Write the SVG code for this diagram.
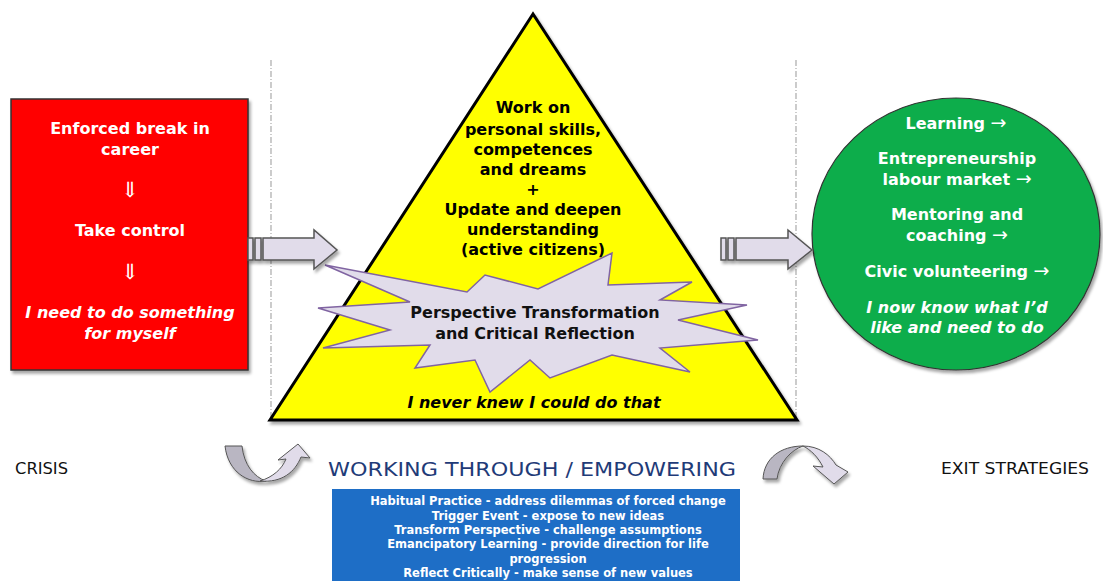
<svg xmlns="http://www.w3.org/2000/svg" width="1103" height="581" viewBox="0 0 1103 581">
<style>
text{font-family:"DejaVu Sans","Liberation Sans",sans-serif;text-anchor:middle}
.w{fill:#fff;font-weight:bold;font-size:16px}
.k{fill:#000;font-weight:bold;font-size:16px}
.it{font-style:italic}
.lab{fill:#111;font-size:16px}
.bl{fill:#fff;font-weight:bold;font-size:11.5px}
.dn{fill:#fff;font-size:21px;font-weight:normal;font-family:"Liberation Serif","DejaVu Serif",serif}
.ra{font-family:"DejaVu Sans",sans-serif;font-weight:normal;font-size:19px}
.arr{fill:#e1dcea;stroke:#555;stroke-width:1.5}
.dash{stroke:#aaa;stroke-width:1.2;stroke-dasharray:6 2 1 2;fill:none}
</style>
<defs>
<filter id="sh" x="-10%" y="-10%" width="130%" height="130%">
<feDropShadow dx="2" dy="3" stdDeviation="1.5" flood-color="#000" flood-opacity="0.35"/>
</filter>
</defs>
<rect width="1103" height="581" fill="#fff"/>
<g id="guides">
<line class="dash" x1="271" y1="60" x2="271" y2="420"/>
<line class="dash" x1="796" y1="60" x2="796" y2="420"/>
</g>
<g id="crisis-box">
<rect x="11" y="99" width="237" height="271" fill="#ff0000" stroke="#333" stroke-width="1.5" filter="url(#sh)"/>
<text class="w" x="130" y="134">Enforced break in</text>
<text class="w" x="130" y="155">career</text>
<text class="dn" x="130" y="197">⇓</text>
<text class="w" x="130" y="236">Take control</text>
<text class="dn" x="130" y="279">⇓</text>
<text class="w it" x="130" y="318">I need to do something</text>
<text class="w it" x="130" y="339">for myself</text>
</g>
<g id="triangle">
<polygon points="533,14 270,420 797,420" fill="#ffff00" stroke="#000" stroke-width="3" stroke-linejoin="miter" filter="url(#sh)"/>
<text class="k" x="533" y="113">Work on</text>
<text class="k" x="533" y="135">personal skills,</text>
<text class="k" x="533" y="155">competences</text>
<text class="k" x="533" y="175">and dreams</text>
<text class="k" x="533" y="195">+</text>
<text class="k" x="533" y="215">Update and deepen</text>
<text class="k" x="533" y="235">understanding</text>
<text class="k" x="533" y="255">(active citizens)</text>
<text class="k it" x="534" y="408">I never knew I could do that</text>
</g>
<g id="starburst">
<polygon points="325,265 467,292 485,275 538,289 612,253 608,285 692,282 660,300 747,305 678,320 758,340 660,348 690,372 612,355 550,378 530,360 490,392 475,360 415,368 430,345 323,348 390,330 318,308 410,302" fill="#e1dcea" stroke="#8064a2" stroke-width="1.5" stroke-linejoin="miter"/>
<text class="k" x="535" y="318" style="fill:#111">Perspective Transformation</text>
<text class="k" x="535" y="339" style="fill:#111">and Critical Reflection</text>
</g>
<g id="exit-circle">
<ellipse cx="956" cy="234" rx="144" ry="136" fill="#11ad4b" stroke="#333" stroke-width="1.2" filter="url(#sh)"/>
<text class="w" x="956" y="129">Learning <tspan class="ra">→</tspan></text>
<text class="w" x="957" y="164">Entrepreneurship</text>
<text class="w" x="957" y="185">labour market <tspan class="ra">→</tspan></text>
<text class="w" x="957" y="220">Mentoring and</text>
<text class="w" x="957" y="241">coaching <tspan class="ra">→</tspan></text>
<text class="w" x="957" y="277">Civic volunteering <tspan class="ra">→</tspan></text>
<text class="w it" x="957" y="313">I now know what I’d</text>
<text class="w it" x="957" y="333">like and need to do</text>
</g>
<g id="connectors">
<g filter="url(#sh)">
<rect class="arr" x="248" y="238" width="5" height="22"/>
<rect class="arr" x="255" y="238" width="6" height="22"/>
<path class="arr" d="M263,238 L314,238 L314,230 L337,250 L314,269 L314,260 L263,260 Z"/>
<rect class="arr" x="721" y="238" width="5" height="22"/>
<rect class="arr" x="728" y="238" width="6" height="22"/>
<path class="arr" d="M736,238 L788,238 L788,230 L812,250 L788,269 L788,260 L736,260 Z"/>
</g>
<g filter="url(#sh)">
<path d="M225,446 L242,446 C244,465 254,477 266,481 C248,484 228,472 225,446 Z" fill="#b9b6c2" stroke="#555" stroke-width="1"/>
<path d="M260,481 C273,477 282,469 286,459 L278,460 L298,444 L310,458 L301,457 C295,472 282,483 260,481 Z" fill="#e1dcea" stroke="#555" stroke-width="1"/>
<path d="M763,479 C764,458 781,446 803,446 C791,450 779,463 777,479 Z" fill="#b9b6c2" stroke="#555" stroke-width="1"/>
<path d="M803,446 C819,446 830,455 836,465 L848,472 L834,484 L813,466 L823,467 C818,457 811,450 803,446 Z" fill="#e1dcea" stroke="#555" stroke-width="1"/>
</g>
</g>
<g id="labels">
<text class="lab" x="15" y="474" style="text-anchor:start" textLength="53" lengthAdjust="spacingAndGlyphs">CRISIS</text>
<text class="lab" x="941" y="474" style="text-anchor:start" textLength="148" lengthAdjust="spacingAndGlyphs">EXIT STRATEGIES</text>
<text x="532" y="476" style="fill:#1f3b78;font-size:20px" textLength="408" lengthAdjust="spacingAndGlyphs">WORKING THROUGH / EMPOWERING</text>
</g>
<g id="stages-box">
<rect x="332" y="489" width="408" height="100" fill="#1e6ec6"/>
<text class="bl" x="548" y="505">Habitual Practice - address dilemmas of forced change</text>
<text class="bl" x="548" y="520">Trigger Event - expose to new ideas</text>
<text class="bl" x="548" y="534">Transform Perspective - challenge assumptions</text>
<text class="bl" x="548" y="548">Emancipatory Learning - provide direction for life</text>
<text class="bl" x="548" y="563">progression</text>
<text class="bl" x="548" y="577">Reflect Critically - make sense of new values</text>
</g>
</svg>
